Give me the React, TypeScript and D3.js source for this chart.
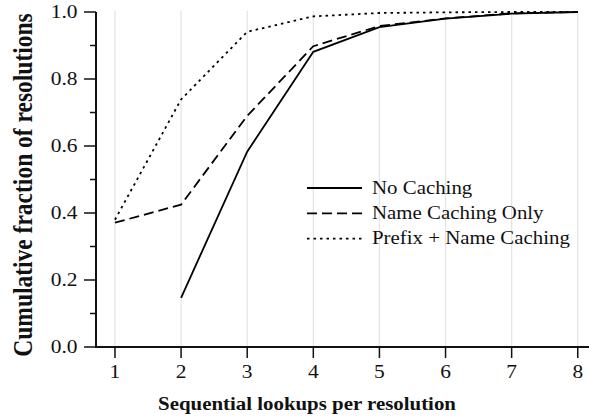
import React from "react";
import * as d3 from "d3";

const steps = [1, 2, 3, 4, 5, 6, 7, 8];
const noCaching: (number | null)[] = [null, 0.147, 0.583, 0.881, 0.955, 0.98, 0.995, 1.0];
const nameCaching: (number | null)[] = [0.371, 0.425, 0.69, 0.898, 0.958, 0.981, 0.996, 1.0];
const prefixCaching: (number | null)[] = [0.38, 0.739, 0.941, 0.987, 0.997, 0.999, 1.0, 1.0];
const seriesNames = ["No Caching", "Name Caching Only", "Prefix + Name Caching"];
const yTicks = [0, 0.2, 0.4, 0.6, 0.8, 1.0];
const yMinor = [0.1, 0.3, 0.5, 0.7, 0.9];

const W = 589;
const H = 419;
const font = "'Liberation Serif', 'Times New Roman', serif";
const SX = 1.16;

function T(props: {
  x: number;
  y: number;
  anchor?: "start" | "middle" | "end";
  size?: number;
  bold?: boolean;
  children: React.ReactNode;
}) {
  return (
    <text
      transform={`translate(${props.x},${props.y}) scale(${SX},1)`}
      textAnchor={props.anchor || "start"}
      fontSize={props.size || 18}
      fontWeight={props.bold ? "bold" : "normal"}
      fill="#111"
    >
      {props.children}
    </text>
  );
}

export default function App() {
  const x = d3.scaleLinear().domain([0.713, 8.17]).range([96, 589]);
  const y = d3.scaleLinear().domain([0, 1]).range([347, 12]);
  const dashes = ["none", "10,5", "2.5,4"];
  const all = [noCaching, nameCaching, prefixCaching];
  const line = d3
    .line<number | null>()
    .defined((d) => d !== null)
    .x((_, i) => x(steps[i]))
    .y((d) => y(d as number));

  return (
    <svg width={W} height={H} style={{ position: "absolute", left: 0, top: 0 }} fontFamily={font}>
      {steps.map((s) => (
        <line key={"g" + s} x1={x(s)} x2={x(s)} y1={11} y2={347} stroke="#e3e3e3" strokeWidth={1.2} />
      ))}
      {all.map((d, i) => (
        <path key={i} d={line(d) || ""} fill="none" stroke="#000" strokeWidth={1.8} strokeDasharray={dashes[i]} />
      ))}
      <line x1={96} x2={96} y1={12} y2={348} stroke="#111" strokeWidth={2} />
      <line x1={95} x2={589} y1={347} y2={347} stroke="#111" strokeWidth={2} />
      {yTicks.map((t) => (
        <g key={"y" + t}>
          <line x1={84} x2={96} y1={y(t)} y2={y(t)} stroke="#111" strokeWidth={1.5} />
          <T x={77.5} y={y(t) + 6.2} anchor="end" size={18.5}>
            {t.toFixed(1)}
          </T>
        </g>
      ))}
      {yMinor.map((t) => (
        <line key={"m" + t} x1={90} x2={96} y1={y(t)} y2={y(t)} stroke="#111" strokeWidth={1.5} />
      ))}
      {steps.map((s) => (
        <g key={"x" + s}>
          <line x1={x(s)} x2={x(s)} y1={347} y2={358} stroke="#111" strokeWidth={1.5} />
          <T x={x(s)} y={378} anchor="middle" size={18.5}>
            {s}
          </T>
        </g>
      ))}
      <T x={307} y={410} anchor="middle" bold>
        Sequential lookups per resolution
      </T>
      <text
        transform={`translate(32,185) scale(1.16,1) rotate(-90)`}
        textAnchor="middle"
        fontSize={23.5}
        fontWeight="bold"
        fill="#111"
      >
        Cumulative fraction of resolutions
      </text>
      {seriesNames.map((n, i) => (
        <g key={n}>
          <line x1={307} x2={362} y1={188 + i * 25.3} y2={188 + i * 25.3} stroke="#000" strokeWidth={1.8} strokeDasharray={dashes[i]} />
          <T x={372} y={193.5 + i * 25}>
            {n}
          </T>
        </g>
      ))}
    </svg>
  );
}
